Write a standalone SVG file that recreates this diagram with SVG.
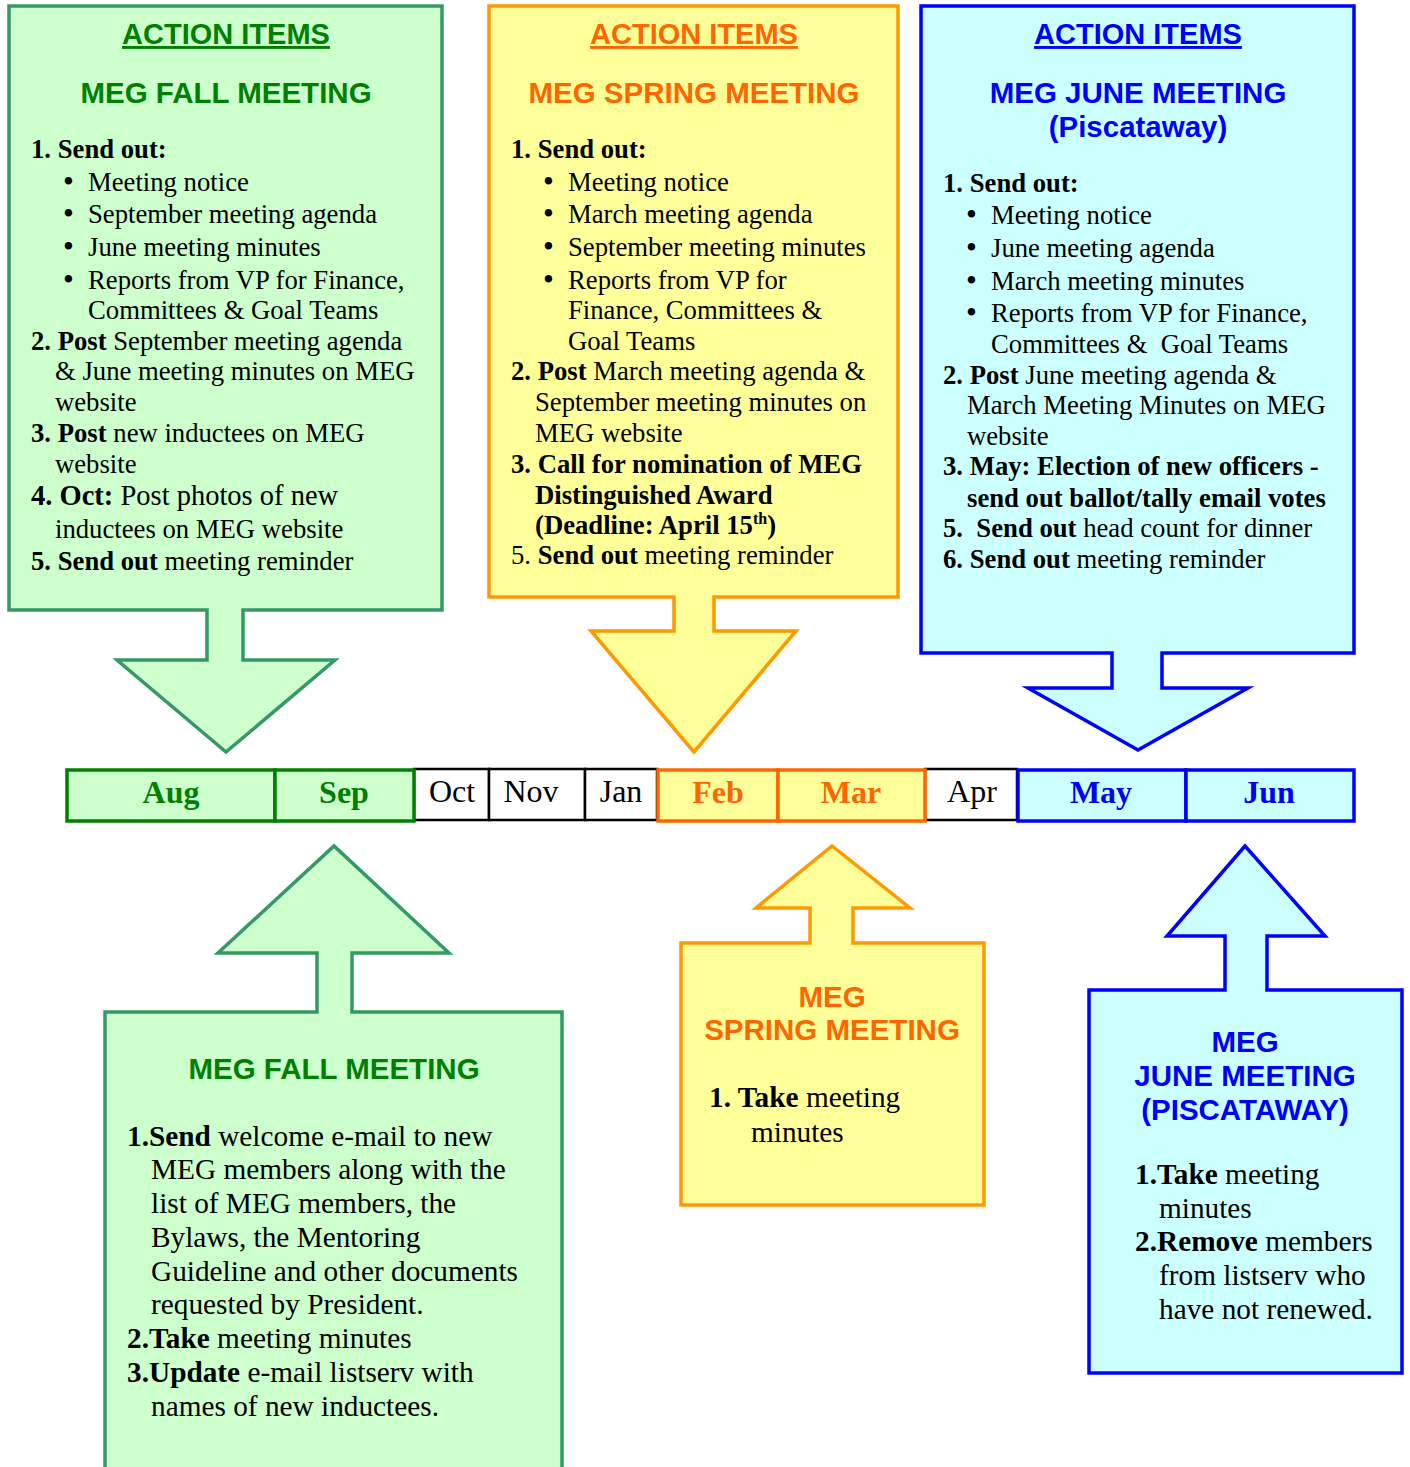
<svg xmlns="http://www.w3.org/2000/svg" width="1410" height="1467" viewBox="0 0 1410 1467">
<style>
.h{font-family:"Liberation Sans",Arial,sans-serif;font-weight:bold;font-size:29.5px;text-anchor:middle}
.u{text-decoration:underline;font-size:29px}
.t{font-family:"Liberation Serif","Times New Roman",serif;font-size:26.7px;fill:#000}
.t2{font-family:"Liberation Serif","Times New Roman",serif;font-size:29.3px;fill:#000}
.bl{font-size:31px}
.b{font-weight:bold}
.m{font-family:"Liberation Serif","Times New Roman",serif;font-size:32px;text-anchor:middle}
.green{fill:#008000}.orange{fill:#ff6600}.blue{fill:#0000ff}
.gbox{fill:#ccffcc;stroke:#339966;stroke-width:3.5}
.ybox{fill:#ffff99;stroke:#ff9900;stroke-width:3.5}
.bbox{fill:#ccffff;stroke:#0000ff;stroke-width:3.5}
.cell{fill:#fff;stroke:#000;stroke-width:2.5}
</style>

<g id="fall-action-items">
<path class="gbox" d="M9,6 H442 V610 H243 V660 H335 L226,752 L117,660 H207 V610 H9 Z"/>
<text class="h green u" x="226" y="44">ACTION ITEMS</text>
<text class="h green" x="226" y="103">MEG FALL MEETING</text>
<g class="t">
<text x="31" y="158" class="b">1. Send out:</text>
<text x="63" y="192"><tspan class="bl">•</tspan><tspan x="88" y="191">Meeting notice</tspan></text>
<text x="63" y="224"><tspan class="bl">•</tspan><tspan x="88" y="223">September meeting agenda</tspan></text>
<text x="63" y="257"><tspan class="bl">•</tspan><tspan x="88" y="256">June meeting minutes</tspan></text>
<text x="63" y="290"><tspan class="bl">•</tspan><tspan x="88" y="289">Reports from VP for Finance,</tspan></text>
<text x="88" y="319">Committees &amp; Goal Teams</text>
<text x="31" y="350"><tspan class="b">2. Post</tspan> September meeting agenda</text>
<text x="55" y="380">&amp; June meeting minutes on MEG</text>
<text x="55" y="411">website</text>
<text x="31" y="442"><tspan class="b">3. Post</tspan> new inductees on MEG</text>
<text x="55" y="473">website</text>
<text x="31" y="505" style="font-size:28.5px"><tspan class="b">4. Oct:</tspan> Post photos of new</text>
<text x="55" y="538">inductees on MEG website</text>
<text x="31" y="570"><tspan class="b">5. Send out</tspan> meeting reminder</text>
</g>
</g>

<g id="spring-action-items">
<path class="ybox" d="M489,6 H898 V597 H714 V631 H796 L694,752 L591,631 H674 V597 H489 Z"/>
<text class="h orange u" x="694" y="44">ACTION ITEMS</text>
<text class="h orange" x="694" y="103">MEG SPRING MEETING</text>
<g class="t">
<text x="511" y="158" class="b">1. Send out:</text>
<text x="543" y="192"><tspan class="bl">•</tspan><tspan x="568" y="191">Meeting notice</tspan></text>
<text x="543" y="224"><tspan class="bl">•</tspan><tspan x="568" y="223">March meeting agenda</tspan></text>
<text x="543" y="257"><tspan class="bl">•</tspan><tspan x="568" y="256">September meeting minutes</tspan></text>
<text x="543" y="290"><tspan class="bl">•</tspan><tspan x="568" y="289">Reports from VP for</tspan></text>
<text x="568" y="319">Finance, Committees &amp;</text>
<text x="568" y="350">Goal Teams</text>
<text x="511" y="380"><tspan class="b">2. Post</tspan> March meeting agenda &amp;</text>
<text x="535" y="411">September meeting minutes on</text>
<text x="535" y="442">MEG website</text>
<text x="511" y="473" class="b">3. Call for nomination of MEG</text>
<text x="535" y="504" class="b">Distinguished Award</text>
<text x="535" y="534" class="b">(Deadline: April 15<tspan dy="-10" style="font-size:16px">th</tspan><tspan dy="10">)</tspan></text>
<text x="511" y="564">5. <tspan class="b">Send out</tspan> meeting reminder</text>
</g>
</g>

<g id="june-action-items">
<path class="bbox" d="M921,6 H1354 V653 H1162 V688 H1248 L1138,750 L1028,688 H1112 V653 H921 Z"/>
<text class="h blue u" x="1138" y="44">ACTION ITEMS</text>
<text class="h blue" x="1138" y="103">MEG JUNE MEETING</text>
<text class="h blue" x="1138" y="137">(Piscataway)</text>
<g class="t">
<text x="943" y="192" class="b">1. Send out:</text>
<text x="966" y="225"><tspan class="bl">•</tspan><tspan x="991" y="224">Meeting notice</tspan></text>
<text x="966" y="258"><tspan class="bl">•</tspan><tspan x="991" y="257">June meeting agenda</tspan></text>
<text x="966" y="291"><tspan class="bl">•</tspan><tspan x="991" y="290">March meeting minutes</tspan></text>
<text x="966" y="323"><tspan class="bl">•</tspan><tspan x="991" y="322">Reports from VP for Finance,</tspan></text>
<text x="991" y="353" xml:space="preserve">Committees &amp;  Goal Teams</text>
<text x="943" y="384"><tspan class="b">2. Post</tspan> June meeting agenda &amp;</text>
<text x="967" y="414">March Meeting Minutes on MEG</text>
<text x="967" y="445">website</text>
<text x="943" y="475" class="b">3. May: Election of new officers -</text>
<text x="967" y="507" class="b">send out ballot/tally email votes</text>
<text x="943" y="537" xml:space="preserve"><tspan class="b">5.  Send out</tspan> head count for dinner</text>
<text x="943" y="568"><tspan class="b">6. Send out</tspan> meeting reminder</text>
</g>
</g>

<g id="timeline">
<rect class="cell" x="414" y="769" width="75" height="51"/>
<rect class="cell" x="489" y="769" width="96" height="51"/>
<rect class="cell" x="585" y="769" width="72" height="51"/>
<rect class="cell" x="925" y="769" width="92" height="51"/>
<rect x="67" y="770" width="208" height="51" fill="#ccffcc" stroke="#008000" stroke-width="3.5"/>
<rect x="275" y="770" width="139" height="51" fill="#ccffcc" stroke="#008000" stroke-width="3.5"/>
<rect x="658" y="770" width="120" height="51" fill="#ffff99" stroke="#ff6600" stroke-width="3.5"/>
<rect x="778" y="770" width="147" height="51" fill="#ffff99" stroke="#ff6600" stroke-width="3.5"/>
<rect x="1018" y="770" width="168" height="51" fill="#ccffff" stroke="#0000ff" stroke-width="3.5"/>
<rect x="1186" y="770" width="168" height="51" fill="#ccffff" stroke="#0000ff" stroke-width="3.5"/>
<text class="m b green" x="171" y="803">Aug</text>
<text class="m b green" x="344" y="803">Sep</text>
<text class="m" x="452" y="802">Oct</text>
<text class="m" x="531" y="802">Nov</text>
<text class="m" x="621" y="802">Jan</text>
<text class="m b orange" x="718" y="803">Feb</text>
<text class="m b orange" x="851" y="803">Mar</text>
<text class="m" x="972" y="802">Apr</text>
<text class="m b blue" x="1101" y="803">May</text>
<text class="m b blue" x="1269" y="803">Jun</text>
</g>

<g id="fall-meeting">
<path class="gbox" d="M105,1480 V1012 H317 V953 H218 L334,846 L449,953 H352 V1012 H562 V1480"/>
<text class="h green" x="334" y="1079">MEG FALL MEETING</text>
<g class="t2">
<text x="127" y="1146"><tspan class="b">1.Send</tspan> welcome e-mail to new</text>
<text x="151" y="1179">MEG members along with the</text>
<text x="151" y="1213">list of MEG members, the</text>
<text x="151" y="1247">Bylaws, the Mentoring</text>
<text x="151" y="1281">Guideline and other documents</text>
<text x="151" y="1314">requested by President.</text>
<text x="127" y="1348"><tspan class="b">2.Take</tspan> meeting minutes</text>
<text x="127" y="1382"><tspan class="b">3.Update</tspan> e-mail listserv with</text>
<text x="151" y="1416">names of new inductees.</text>
</g>
</g>

<g id="spring-meeting">
<path class="ybox" d="M681,943 H810 V908 H756 L832,846 L910,908 H853 V943 H984 V1205 H681 Z"/>
<text class="h orange" x="832" y="1007">MEG</text>
<text class="h orange" x="832" y="1040">SPRING MEETING</text>
<g class="t2">
<text x="709" y="1107"><tspan class="b">1. Take</tspan> meeting</text>
<text x="751" y="1142">minutes</text>
</g>
</g>

<g id="june-meeting">
<path class="bbox" d="M1089,990 H1225 V936 H1167 L1245,846 L1325,936 H1267 V990 H1402 V1373 H1089 Z"/>
<text class="h blue" x="1245" y="1052">MEG</text>
<text class="h blue" x="1245" y="1086">JUNE MEETING</text>
<text class="h blue" x="1245" y="1120">(PISCATAWAY)</text>
<g class="t2">
<text x="1135" y="1184"><tspan class="b">1.Take</tspan> meeting</text>
<text x="1159" y="1218">minutes</text>
<text x="1135" y="1251"><tspan class="b">2.Remove</tspan> members</text>
<text x="1159" y="1285">from listserv who</text>
<text x="1159" y="1319">have not renewed.</text>
</g>
</g>
</svg>
